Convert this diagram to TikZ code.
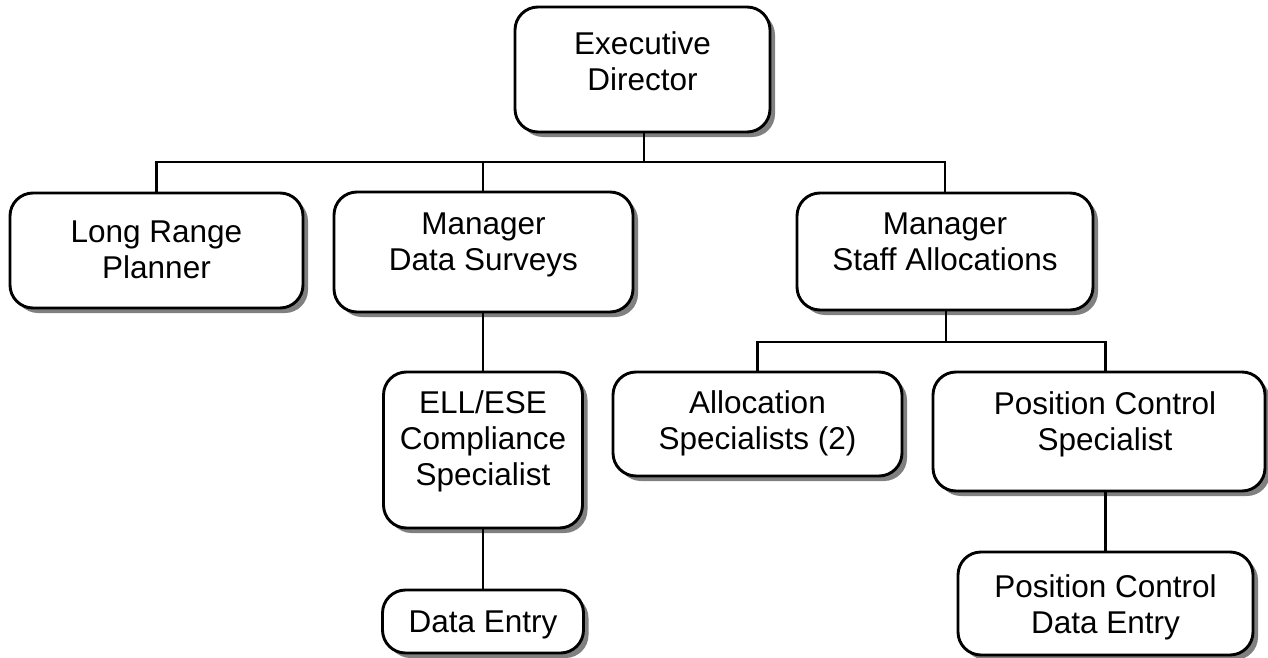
\documentclass[tikz,border=0pt]{standalone}
\usepackage{fontspec}
\setmainfont{Liberation Sans}
\usetikzlibrary{shadows}
\tikzset{
  orgbox/.style={draw=black, line width=2.9pt, fill=white, rounded corners=23pt,
    drop shadow={shadow xshift=5pt, shadow yshift=-5pt, fill=black!50, opacity=1},
    inner sep=0pt},
  orgtxt/.style={align=center, font=\fontsize{31.5}{36.2}\selectfont, inner sep=0pt},
  link/.style={draw=black, line width=2.5pt}
}
\begin{document}
\begin{tikzpicture}[x=1pt,y=-1pt]
\useasboundingbox (0,0) rectangle (1268,658);
\node[orgbox, minimum width=255, minimum height=125,
  label={[orgtxt,yshift=4.5pt]center:\strut Executive\\Director\strut}] (exec) at (642.5,69.5) {};
\node[orgbox, minimum width=293, minimum height=115,
  label={[orgtxt,yshift=-2.4pt]center:\strut Long Range\\Planner\strut}] (lrp) at (156.5,250.5) {};
\node[orgbox, minimum width=299, minimum height=120,
  label={[orgtxt,yshift=6.6pt]center:\strut Manager\\Data Surveys\strut}] (mds) at (483.5,252) {};
\node[orgbox, minimum width=296, minimum height=117,
  label={[orgtxt,yshift=6.5pt]center:\strut Manager\\Staff Allocations\strut}] (msa) at (945,251.5) {};
\node[orgbox, minimum width=199, minimum height=156,
  label={[orgtxt,yshift=8pt]center:\strut ELL/ESE\\Compliance\\Specialist\strut}] (ell) at (483,450) {};
\node[orgbox, minimum width=201, minimum height=63,
  label={[orgtxt,yshift=-4pt]center:\strut Data Entry}] (de) at (483,621.5) {};
\node[orgbox, minimum width=289, minimum height=104,
  label={[orgtxt]center:\strut Allocation\\Specialists (2)\strut}] (alloc) at (757.5,424) {};
\node[orgbox, minimum width=332, minimum height=119,
  label={[orgtxt,xshift=6pt,yshift=6.5pt]center:\strut Position Control\\Specialist\strut}] (pcs) at (1099,431.5) {};
\node[orgbox, minimum width=295, minimum height=103,
  label={[orgtxt,yshift=-4.5pt]center:\strut Position Control\\Data Entry\strut}] (pcde) at (1105.5,603.5) {};
\coordinate (j1) at (644,162);
\coordinate (j2) at (946,342);
\path[link] (exec.south -| j1) -- (j1);
\path[link] (lrp.north) |- (j1) -| (msa.north);
\path[link] (j1 -| ell.north) -- (mds.north -| ell.north);
\path[link] (mds.south -| ell.north) -- (ell.north);
\path[link] (ell.south) -- (de.north);
\path[link] (msa.south -| j2) -- (j2);
\path[link] (alloc.north) |- (j2) -| (pcde.north |- pcs.north);
\path[link] (pcs.south -| pcde.north) -- (pcde.north);
\end{tikzpicture}
\end{document}
